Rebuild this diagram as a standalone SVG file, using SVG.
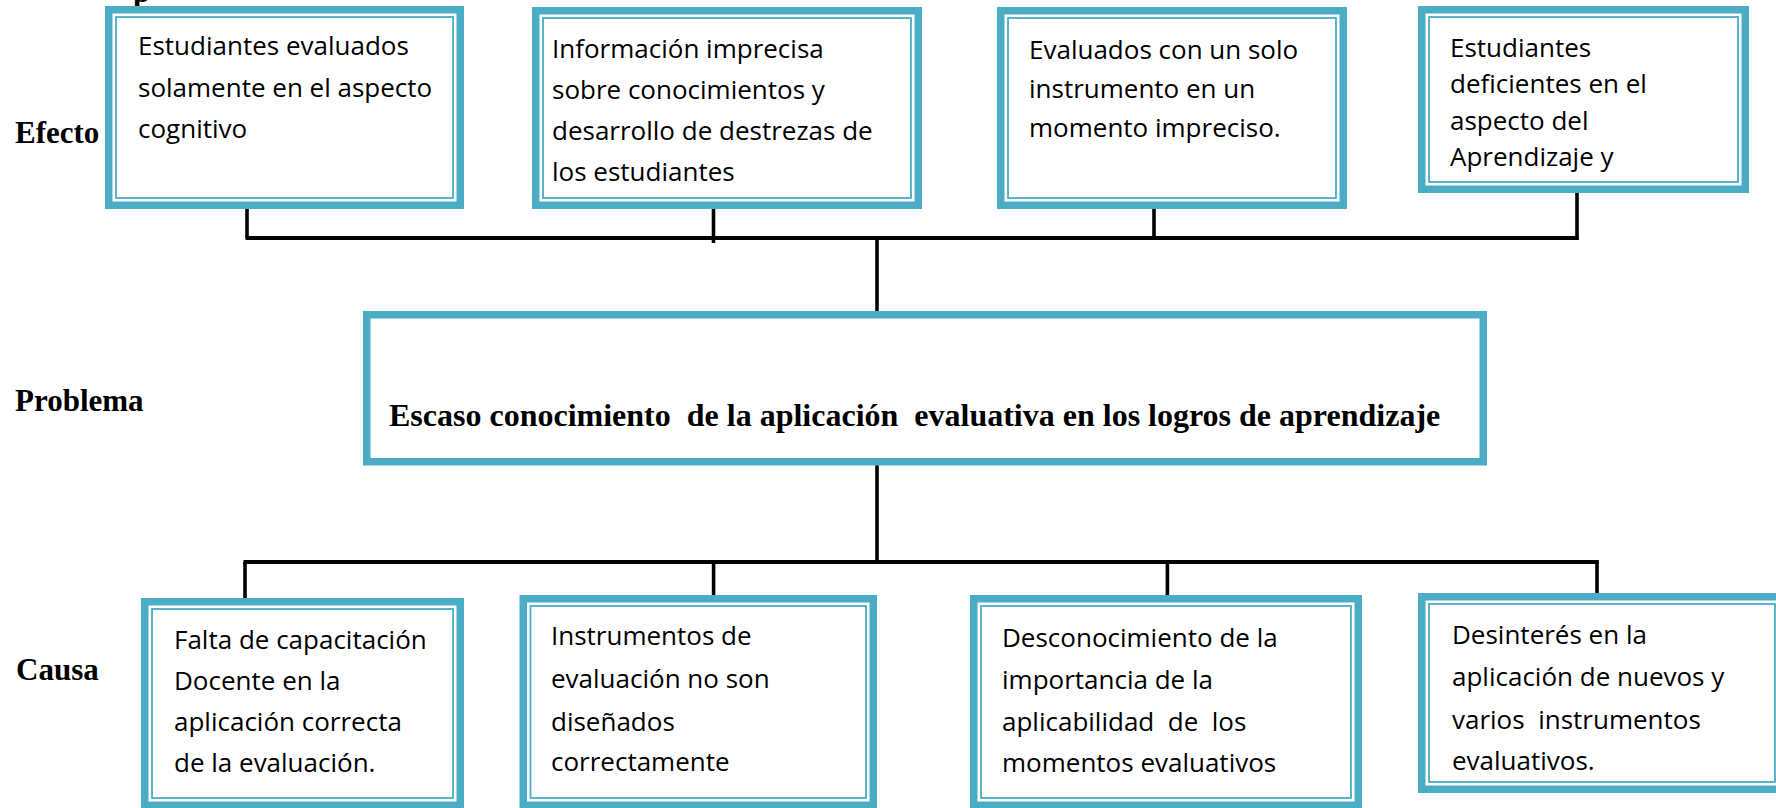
<svg xmlns="http://www.w3.org/2000/svg" width="1776" height="808" viewBox="0 0 1776 808">
<style>
.band{fill:#ffffff;stroke:#4BACC6;stroke-width:7.5}
.thin{fill:none;stroke:#4BACC6;stroke-width:1.8}
.t{font-family:"Open Sans","Liberation Sans",sans-serif;font-size:26px;fill:#000}
.lab{font-family:"Liberation Serif","Times New Roman",serif;font-size:31px;font-weight:bold;fill:#000}
.prob{font-family:"Liberation Serif","Times New Roman",serif;font-size:32px;font-weight:bold;fill:#000;white-space:pre}
.c{stroke:#000;stroke-width:3.6;fill:none}
.h{stroke:#000;stroke-width:4;fill:none}
</style>
<rect width="1776" height="808" fill="#ffffff"/>
<g id="labels">
<text class="lab" x="133" y="2">p</text>
<text class="lab" x="15" y="143">Efecto</text>
<text class="lab" x="15" y="411">Problema</text>
<text class="lab" x="16" y="680">Causa</text>
</g>
<g id="connectors">
<line class="h" x1="245.5" y1="238" x2="1578.5" y2="238"/>
<line class="c" x1="247" y1="209" x2="247" y2="238"/>
<line class="c" x1="713.5" y1="209" x2="713.5" y2="243"/>
<line class="c" x1="1154" y1="209" x2="1154" y2="239"/>
<line class="c" x1="1577" y1="193" x2="1577" y2="240"/>
<line class="c" x1="877" y1="238" x2="877" y2="311"/>
<line class="c" x1="877" y1="465" x2="877" y2="562"/>
<line class="h" x1="243.5" y1="562" x2="1598.8" y2="562"/>
<line class="c" x1="245" y1="562" x2="245" y2="598"/>
<line class="c" x1="713.6" y1="562" x2="713.6" y2="595"/>
<line class="c" x1="1167.4" y1="562" x2="1167.4" y2="595"/>
<line class="c" x1="1597" y1="562" x2="1597" y2="593"/>
</g>
<g id="efecto-1">
<rect class="band" x="108.75" y="9.75" width="351.5" height="195.5"/>
<rect class="thin" x="116" y="17" width="337" height="181"/>
<text class="t" x="138" y="55">Estudiantes evaluados</text>
<text class="t" x="138" y="96.5">solamente en el aspecto</text>
<text class="t" x="138" y="138">cognitivo</text>
</g>
<g id="efecto-2">
<rect class="band" x="535.75" y="10.75" width="382.5" height="194.5"/>
<rect class="thin" x="543" y="18" width="368" height="180"/>
<text class="t" x="552" y="58">Información imprecisa</text>
<text class="t" x="552" y="99">sobre conocimientos y</text>
<text class="t" x="552" y="139.5">desarrollo de destrezas de</text>
<text class="t" x="552" y="181">los estudiantes</text>
</g>
<g id="efecto-3">
<rect class="band" x="1000.75" y="10.75" width="342.5" height="194.5"/>
<rect class="thin" x="1008" y="18" width="328" height="180"/>
<text class="t" x="1029" y="59">Evaluados con un solo</text>
<text class="t" x="1029" y="98">instrumento en un</text>
<text class="t" x="1029" y="137">momento impreciso.</text>
</g>
<g id="efecto-4">
<rect class="band" x="1421.75" y="9.75" width="323.5" height="179.5"/>
<rect class="thin" x="1429" y="17" width="309" height="165"/>
<text class="t" x="1450" y="56.5">Estudiantes</text>
<text class="t" x="1450" y="93">deficientes en el</text>
<text class="t" x="1450" y="129.5">aspecto del</text>
<text class="t" x="1450" y="166">Aprendizaje y</text>
</g>
<g id="problema">
<rect class="band" x="366.75" y="314.75" width="1116.5" height="147"/>
<text class="prob" x="389" y="426" xml:space="preserve">Escaso conocimiento  de la aplicación  evaluativa en los logros de aprendizaje</text>
</g>
<g id="causa-1">
<rect class="band" x="144.75" y="601.75" width="315.5" height="203.5"/>
<rect class="thin" x="152" y="609" width="301" height="189"/>
<text class="t" x="174" y="649">Falta de capacitación</text>
<text class="t" x="174" y="690">Docente en la</text>
<text class="t" x="174" y="731">aplicación correcta</text>
<text class="t" x="174" y="772">de la evaluación.</text>
</g>
<g id="causa-2">
<rect class="band" x="523.25" y="598.75" width="350" height="206.5"/>
<rect class="thin" x="530.5" y="606" width="335.5" height="192"/>
<text class="t" x="551" y="645">Instrumentos de</text>
<text class="t" x="551" y="688">evaluación no son</text>
<text class="t" x="551" y="730.5">diseñados</text>
<text class="t" x="551" y="771">correctamente</text>
</g>
<g id="causa-3">
<rect class="band" x="973.75" y="598.75" width="384.5" height="206.5"/>
<rect class="thin" x="981" y="606" width="370" height="192"/>
<text class="t" x="1002" y="647">Desconocimiento de la</text>
<text class="t" x="1002" y="689">importancia de la</text>
<text class="t" x="1002" y="731" xml:space="preserve" style="white-space:pre">aplicabilidad  de  los</text>
<text class="t" x="1002" y="772">momentos evaluativos</text>
</g>
<g id="causa-4">
<rect class="band" x="1421.75" y="596.75" width="360.5" height="192.5"/>
<rect class="thin" x="1429" y="604" width="346" height="178"/>
<text class="t" x="1452" y="644">Desinterés en la</text>
<text class="t" x="1452" y="686">aplicación de nuevos y</text>
<text class="t" x="1452" y="728.5" xml:space="preserve" style="white-space:pre">varios  instrumentos</text>
<text class="t" x="1452" y="769.5">evaluativos.</text>
</g>
</svg>
